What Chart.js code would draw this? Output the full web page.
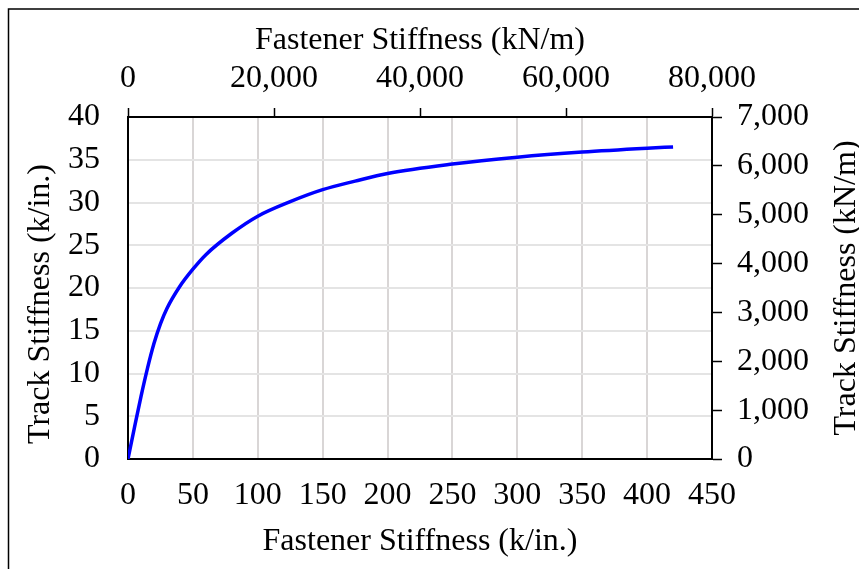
<!DOCTYPE html>
<html>
<head>
<meta charset="utf-8">
<script src="https://cdn.jsdelivr.net/npm/chart.js@4"></script>
<style>
  html, body { margin: 0; padding: 0; background: #fff; }
  #wrap { width: 859px; height: 569px; }
</style>
</head>
<body>
<div id="wrap"><canvas id="stiffness-chart" width="859" height="569"></canvas></div>
<script>
// fastener stiffness (k/in.) vs track stiffness (k/in.)
const fastenerStiffness = [0, 5, 10, 15, 20, 25, 30, 40, 50, 60, 80, 100, 125, 150, 175, 200, 250, 300, 350, 400, 420];
const trackStiffness = [0, 3.7, 7.3, 10.6, 13.5, 15.8, 17.6, 20.2, 22.2, 23.9, 26.4, 28.4, 30.1, 31.5, 32.5, 33.4, 34.5, 35.3, 35.9, 36.35, 36.5];

const bottomTicks = [0, 50, 100, 150, 200, 250, 300, 350, 400, 450];
const topTicks = [0, 20000, 40000, 60000, 80000];
const leftTicks = [0, 5, 10, 15, 20, 25, 30, 35, 40];
const rightTicks = [0, 1000, 2000, 3000, 4000, 5000, 6000, 7000];

const FONT = "'Liberation Serif', 'Times New Roman', serif";
const tickFont = { family: FONT, size: 32 };
const fmt = v => Number(v).toLocaleString("en-US");

// frame line on left/top plus the two vertical titles (Excel style, both read upward)
const extras = {
  id: "extras",
  beforeDraw(chart) {
    const ctx = chart.ctx;
    ctx.save();
    ctx.strokeStyle = "#000";
    ctx.lineWidth = 1.5;
    ctx.beginPath();
    ctx.moveTo(8.5, 569);
    ctx.lineTo(8.5, 9);
    ctx.lineTo(859, 9);
    ctx.stroke();
    ctx.restore();
  },
  afterDraw(chart) {
    const ctx = chart.ctx;
    ctx.save();
    ctx.fillStyle = "#000";
    ctx.font = "32px " + FONT;
    ctx.textAlign = "center";
    ctx.textBaseline = "alphabetic";
    ctx.translate(49, 304);
    ctx.rotate(-Math.PI / 2);
    ctx.fillText("Track Stiffness (k/in.)", 0, 0);
    ctx.restore();

    ctx.save();
    ctx.fillStyle = "#000";
    ctx.font = "32px " + FONT;
    ctx.textAlign = "center";
    ctx.textBaseline = "alphabetic";
    ctx.translate(855, 288);
    ctx.rotate(-Math.PI / 2);
    ctx.fillText("Track Stiffness (kN/m)", 0, 0);
    ctx.restore();
  }
};

new Chart(document.getElementById("stiffness-chart"), {
  type: "line",
  data: {
    datasets: [{
      data: fastenerStiffness.map((x, i) => ({ x: x, y: trackStiffness[i] })),
      borderColor: "#0000ff",
      borderWidth: 3.5,
      pointRadius: 0,
      fill: false,
      cubicInterpolationMode: "monotone",
      xAxisID: "x",
      yAxisID: "y"
    }]
  },
  options: {
    responsive: false,
    animation: false,
    layout: { padding: 0 },
    plugins: { legend: { display: false }, tooltip: { enabled: false } },
    scales: {
      x: {
        type: "linear",
        position: "bottom",
        min: 0, max: 450,
        afterBuildTicks: s => { s.ticks = bottomTicks.map(v => ({ value: v })); },
        afterFit: s => { s.height = 110; },
        ticks: { font: tickFont, color: "#000", padding: 17, maxRotation: 0, autoSkip: false },
        grid: { color: "#d9d6d6", lineWidth: 2, drawTicks: false },
        border: { display: true, color: "#000", width: 2 },
        title: { display: true, text: "Fastener Stiffness (k/in.)", color: "#000", font: tickFont, padding: { top: 0, bottom: 8 } }
      },
      x2: {
        type: "linear",
        position: "top",
        min: 0, max: 80000,
        afterBuildTicks: s => { s.ticks = topTicks.map(v => ({ value: v })); },
        afterFit: s => { s.height = 117; },
        ticks: { font: tickFont, color: "#000", padding: 10, maxRotation: 0, autoSkip: false, callback: v => fmt(v) },
        grid: { drawOnChartArea: false, drawTicks: true, tickLength: 9, tickColor: "#000", tickWidth: 1.5 },
        border: { display: true, color: "#000", width: 2 },
        title: { display: true, text: "Fastener Stiffness (kN/m)", color: "#000", font: tickFont, padding: { top: 21, bottom: 0 } }
      },
      y: {
        type: "linear",
        position: "left",
        min: 0, max: 40,
        afterBuildTicks: s => { s.ticks = leftTicks.map(v => ({ value: v })); },
        afterFit: s => { s.width = 128; },
        ticks: { font: tickFont, color: "#000", padding: 28 },
        grid: { color: "#e4e4e4", lineWidth: 2, drawTicks: false },
        border: { display: true, color: "#000", width: 2 }
      },
      y2: {
        type: "linear",
        position: "right",
        min: 0, max: 7000,
        afterBuildTicks: s => { s.ticks = rightTicks.map(v => ({ value: v })); },
        afterFit: s => { s.width = 147; },
        ticks: { font: tickFont, color: "#000", padding: 15, callback: v => fmt(v) },
        grid: { drawOnChartArea: false, drawTicks: true, tickLength: 10, tickColor: "#000", tickWidth: 1.5 },
        border: { display: true, color: "#000", width: 2 }
      }
    }
  },
  plugins: [extras]
});
</script>
</body>
</html>
